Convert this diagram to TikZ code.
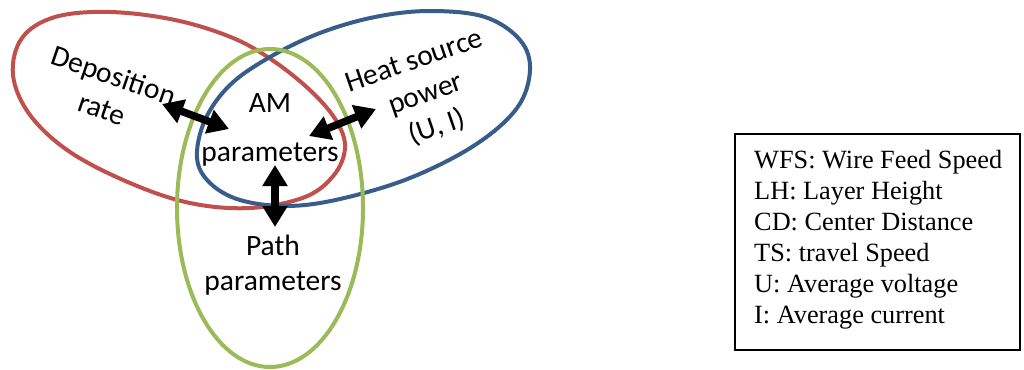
\documentclass[tikz,border=0pt]{standalone}
\usepackage{fontspec}
\setmainfont{Liberation Serif}
\newfontfamily\labelfont{Carlito}
\usetikzlibrary{arrows.meta}
\definecolor{setred}{RGB}{192,80,77}
\definecolor{setblue}{RGB}{56,93,138}
\definecolor{setgreen}{RGB}{155,187,89}
\begin{document}
\begin{tikzpicture}[x=1pt,y=-1pt,
  setline/.style={line width=4pt},
  biglabel/.style={font=\labelfont\fontsize{29.5}{35}\selectfont, inner sep=0pt, align=center},
  dblarrow/.style={line width=7.5pt, {Triangle[width=24pt,length=21pt]}-{Triangle[width=24pt,length=21pt]}},
  legendbox/.style={draw, line width=1.6pt, minimum width=285pt, minimum height=216pt, inner sep=0pt},
  legendtext/.style={inner sep=0pt, align=left, font=\fontsize{26.3}{31}\selectfont}]
\useasboundingbox (0,0) rectangle (1024,369);

% deposition rate set
\draw[setline, setred] plot[smooth cycle, tension=0.6] coordinates {
  (13,75) (22,38) (55,17) (110,12) (175,20) (233,38) (275,62) (313,93)
  (337,122) (345,148) (334,175) (305,197) (250,208) (190,203) (130,183)
  (70,152) (30,115)};
% heat source power set
\draw[setline, setblue] plot[smooth cycle, tension=0.6] coordinates {
  (197,158) (205,120) (230,85) (270,57) (320,33) (375,17) (430,11)
  (485,17) (520,40) (530,70) (517,108) (475,145) (410,178) (340,199)
  (287,206) (240,200) (210,183)};
% path parameters set
\draw[setline, setgreen] (270,208) ellipse [x radius=93, y radius=159];

% set labels
\node[biglabel, rotate=-19] (dep) at (108,92) {Deposition\\rate};
\node[biglabel, rotate=19] (heat) at (426,95) {Heat source\\power\\(U, I)};
\node[biglabel] (am) at (270,103) {AM};
\node[biglabel] (amp) at (270,155) {parameters};
\node[biglabel] (path) at (273,265) {Path\\parameters};

% links between the sets
\coordinate (a1) at (162,104);
\coordinate (a2) at (229,129);
\coordinate (b1) at (309,136);
\coordinate (b2) at (376,109);
\coordinate (c1) at (275,165);
\coordinate (c2) at (275,227);
\draw[dblarrow] (a1) -- (a2);
\draw[dblarrow] (b1) -- (b2);
\draw[dblarrow] (c1) -- (c2);

% abbreviations
\node[legendbox] (legend) at (877.5,242) {};
\node[legendtext, anchor=west] (legendlines) at (754,240) {WFS: Wire Feed Speed\\LH: Layer Height\\CD: Center Distance\\TS: travel Speed\\U: Average voltage\\I: Average current};
\end{tikzpicture}
\end{document}
